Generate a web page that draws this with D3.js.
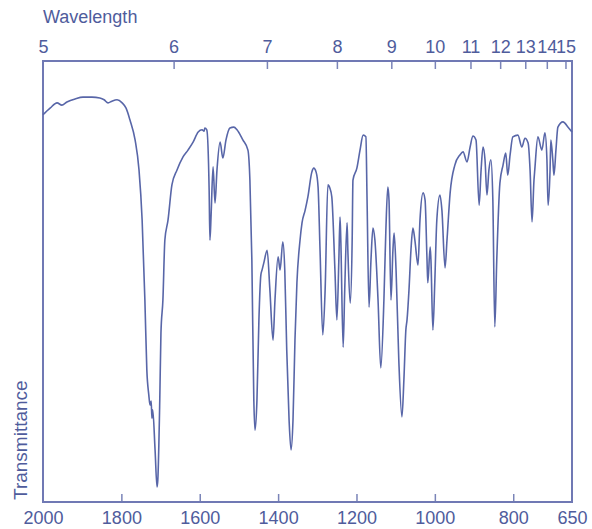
<!DOCTYPE html>
<html>
<head>
<meta charset="utf-8">
<script src="https://cdn.jsdelivr.net/npm/d3@7"></script>
<style>
  body { margin: 0; background: #fff; }
  text { font-family: "Liberation Sans", Arial, sans-serif; }
</style>
</head>
<body>
<svg width="592" height="529"></svg>
<script>
// wavenumbers (cm-1) and transmittance (%)
var wavenumber = [2000,1982,1964,1952,1939,1918,1898,1875,1855,1844,1834,1824,1811,1798,1788,1778,1765,1755,1747,1740,
  1735,1730,1727,1724,1722,1720,1714,1709,1707,1702,1699,1694,1689,1681,1671,1658,1643,1630,1617,1604,
  1594,1589,1587,1582,1576,1574,1571,1566,1561,1556,1548,1541,1533,1523,1513,1505,1490,1477,1472,1467,
  1462,1459,1454,1449,1444,1441,1436,1428,1421,1413,1408,1400,1395,1388,1383,1378,1372,1367,1362,1357,
  1352,1344,1339,1331,1324,1314,1309,1303,1298,1293,1286,1280,1273,1268,1263,1255,1250,1245,1242,1240,
  1234,1230,1224,1222,1216,1211,1209,1199,1191,1183,1176,1173,1168,1163,1158,1153,1145,1138,1130,1125,
  1120,1117,1112,1107,1104,1099,1092,1084,1079,1074,1071,1066,1061,1056,1051,1043,1038,1030,1025,1020,
  1018,1012,1010,1005,1000,995,987,982,974,969,961,949,936,928,918,910,903,895,887,882,
  877,872,867,862,857,852,847,842,834,826,819,814,808,801,788,778,770,762,757,752,
  747,745,737,727,719,714,711,706,704,699,696,691,686,673,660,650];

var transmittance = [87.8,89.3,90.5,90.0,90.7,91.4,91.8,91.8,91.6,91.2,90.5,90.9,91.2,90.5,89.3,86.6,82.1,75.3,63.9,45.8,
  29.9,24.3,22.0,22.9,19.0,20.9,11.8,3.4,5.0,23.1,38.3,45.8,59.4,63.9,71.9,75.3,78.2,79.8,81.6,83.9,
  84.4,84.1,84.8,84.4,70.7,59.4,65.1,76.0,67.8,75.3,81.6,78.0,82.1,84.8,85.0,84.4,82.1,79.8,73.0,54.9,
  23.1,16.3,23.1,41.3,51.5,52.6,54.4,57.1,48.1,36.7,45.8,55.6,52.6,59.0,52.6,34.5,18.6,11.8,18.6,36.7,
  49.7,59.4,63.3,66.2,69.2,74.8,75.7,74.8,71.4,57.1,37.9,48.1,71.9,71.2,69.2,52.6,41.3,54.9,64.6,59.4,
  35.1,48.1,63.3,57.1,45.1,59.4,73.0,75.7,79.8,83.2,82.8,68.5,44.2,54.9,62.1,59.4,45.8,30.4,45.8,61.7,
  71.4,68.5,45.8,57.1,61.0,52.6,32.2,19.3,27.7,39.0,41.3,48.1,57.1,62.1,59.4,53.7,63.9,70.1,68.5,54.9,
  49.7,57.8,54.9,39.0,50.3,63.9,69.6,66.2,53.1,59.4,70.1,76.4,78.7,79.4,77.1,80.5,83.0,82.1,67.3,75.3,
  80.5,77.6,69.6,75.3,77.6,68.5,39.7,54.9,72.3,76.4,79.1,74.1,78.7,82.8,83.2,80.5,82.5,81.4,75.3,63.5,
  73.0,75.3,82.8,79.8,83.7,77.6,67.3,75.3,82.1,77.6,74.1,79.8,85.0,86.2,85.0,83.9];

var bottomTicks = [2000, 1800, 1600, 1400, 1200, 1000, 800, 650];
var wavelengthTicks = [5, 6, 7, 8, 9, 10, 11, 12, 13, 14, 15];

var blue = "#4f5c9c";

var svg = d3.select("svg"),
    margin = {top: 61, right: 20, bottom: 27, left: 43},
    width = svg.attr("width") - margin.left - margin.right,
    height = svg.attr("height") - margin.top - margin.bottom,
    g = svg.append("g").attr("transform", "translate(" + margin.left + "," + margin.top + ")");

var x = d3.scaleLinear().domain([2000, 650]).range([0, width]),
    y = d3.scaleLinear().domain([0, 100]).range([height, 0]);

var data = wavenumber.map(function(w, i) { return {w: w, t: transmittance[i]}; });

var line = d3.line()
    .curve(d3.curveMonotoneX)
    .x(function(d) { return x(d.w); })
    .y(function(d) { return y(d.t); });

// bottom axis, ticks pointing inward
var xAxis = g.append("g")
    .attr("transform", "translate(0," + height + ")")
    .call(d3.axisBottom(x)
      .tickValues(bottomTicks)
      .tickFormat(d3.format("d"))
      .tickSizeInner(-8)
      .tickSizeOuter(0)
      .tickPadding(9));

// top axis in wavelength (micrometres)
var topAxis = g.append("g")
    .call(d3.axisTop(x)
      .tickValues(wavelengthTicks.map(function(l) { return 10000 / l; }))
      .tickFormat(function(d) { return Math.round(10000 / d); })
      .tickSizeInner(-8)
      .tickSizeOuter(0)
      .tickPadding(8));

[xAxis, topAxis].forEach(function(a) {
  a.select(".domain").remove();
  a.selectAll("line").attr("stroke", "#7a84b8").attr("stroke-width", 1.5);
  a.selectAll("text")
      .attr("fill", blue)
      .style("font-size", "18px")
      .style("font-family", "'Liberation Sans', Arial, sans-serif");
});
// hide end ticks that sit on the frame
xAxis.selectAll(".tick line").filter(function(d) { return d === 2000 || d === 650; }).remove();
topAxis.selectAll(".tick line").filter(function(d) { return Math.abs(d - 2000) < 1; }).remove();

// frame
g.append("rect")
    .attr("width", width)
    .attr("height", height)
    .attr("fill", "none")
    .attr("stroke", "#7079b4")
    .attr("stroke-width", 2);

g.append("path")
    .datum(data)
    .attr("fill", "none")
    .attr("stroke", "#5866a8")
    .attr("stroke-width", 1.6)
    .attr("stroke-linejoin", "round")
    .attr("d", line);

svg.append("text")
    .attr("x", 43)
    .attr("y", 23)
    .attr("fill", blue)
    .style("font-size", "18px")
    .text("Wavelength");

svg.append("text")
    .attr("transform", "translate(27," + (margin.top + height - 2) + ") rotate(-90)")
    .attr("fill", blue)
    .style("font-size", "19px")
    .text("Transmittance");
</script>
</body>
</html>
